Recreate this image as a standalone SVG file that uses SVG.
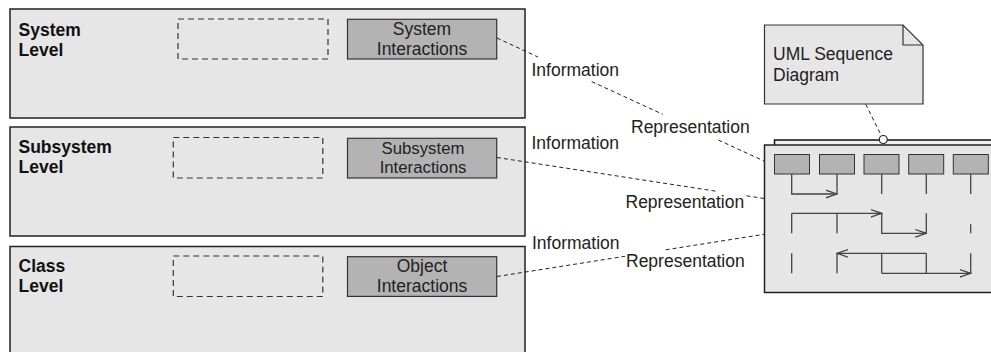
<svg xmlns="http://www.w3.org/2000/svg" width="991" height="352" viewBox="0 0 991 352">
<style>
  .level{fill:#e6e6e6;stroke:#222;stroke-width:1.5}
  .ph{fill:none;stroke:#333;stroke-width:1.2;stroke-dasharray:6 4}
  .act{fill:#b3b3b3;stroke:#333;stroke-width:1.2}
  .lbl{font-family:"Liberation Sans",Arial,sans-serif;font-size:17.5px;font-weight:bold;fill:#111}
  .txt{font-family:"Liberation Sans",Arial,sans-serif;font-size:17.5px;fill:#222}
  .sm{font-size:16.8px}
  .ctr{text-anchor:middle}
  .dash{fill:none;stroke:#222;stroke-width:1;stroke-dasharray:4 3}
  .seq{fill:none;stroke:#444;stroke-width:1.3}
  .head{fill:#b3b3b3;stroke:#333;stroke-width:1}
</style>
<defs>
  <marker id="open" markerUnits="userSpaceOnUse" markerWidth="12" markerHeight="10" viewBox="0 0 12 10" refX="11" refY="5" orient="auto">
    <path d="M0,1.2 L11,5 L0,8.8" fill="none" stroke="#444" stroke-width="1.3"/>
  </marker>
</defs>

<g id="system-level">
  <rect class="level" x="10" y="9" width="515" height="109"/>
  <text class="lbl" x="18.5" y="35.5">System</text>
  <text class="lbl" x="18.5" y="55.5">Level</text>
  <rect class="ph" x="178" y="19" width="150" height="40"/>
</g>
<g id="system-interactions">
  <rect class="act" x="347.5" y="19.3" width="149.2" height="39.7"/>
  <text class="txt ctr" x="422" y="35">System</text>
  <text class="txt ctr" x="422" y="55">Interactions</text>
</g>

<g id="subsystem-level">
  <rect class="level" x="10" y="127" width="515" height="109"/>
  <text class="lbl" x="18.5" y="153.3">Subsystem</text>
  <text class="lbl" x="18.5" y="173.3">Level</text>
  <rect class="ph" x="173.3" y="137.5" width="149.5" height="40.5"/>
</g>
<g id="subsystem-interactions">
  <rect class="act" x="347.5" y="138.3" width="149.2" height="39.7"/>
  <text class="txt sm ctr" x="423" y="153.8">Subsystem</text>
  <text class="txt sm ctr" x="423" y="172.8">Interactions</text>
</g>

<g id="class-level">
  <rect class="level" x="10" y="246.5" width="515" height="120"/>
  <text class="lbl" x="18.5" y="271.7">Class</text>
  <text class="lbl" x="18.5" y="292">Level</text>
  <rect class="ph" x="173.3" y="256" width="149.5" height="40.5"/>
</g>
<g id="object-interactions">
  <rect class="act" x="347.5" y="256.7" width="149.2" height="39.7"/>
  <text class="txt ctr" x="422" y="271.7">Object</text>
  <text class="txt ctr" x="422" y="292">Interactions</text>
</g>

<g id="note">
  <path d="M764.5,25 L903,25 L923,45 L923,104 L764.5,104 Z" fill="#e6e6e6" stroke="#333" stroke-width="1.2"/>
  <path d="M903,25 L903,45 L923,45" fill="none" stroke="#333" stroke-width="1.2"/>
  <text class="txt" x="773" y="59.5">UML Sequence</text>
  <text class="txt" x="773" y="81">Diagram</text>
</g>

<g id="sequence-diagram">
  <rect x="774.5" y="140" width="230" height="12" fill="#eeeeee" stroke="#111" stroke-width="1.5"/>
  <rect x="764.5" y="145" width="240" height="147.5" fill="#e6e6e6" stroke="#222" stroke-width="1.5"/>
  <rect class="head" x="774.5" y="154.5" width="35" height="19.5"/>
  <rect class="head" x="819.5" y="154.5" width="35" height="19.5"/>
  <rect class="head" x="864" y="154.5" width="35" height="19.5"/>
  <rect class="head" x="908.7" y="154.5" width="35" height="19.5"/>
  <rect class="head" x="953.3" y="154.5" width="35" height="19.5"/>
  <path class="seq" d="M837,174 V194 M881.7,174 V194 M926.3,174 V194 M970.7,174 V194
    M791.7,213.3 V233.3 M837,213.3 V233.3 M926.3,213.3 V233.3 M970.7,224.3 V233.3
    M791.7,253.3 V273.3 M837,253.3 V273.3 M881.7,253.3 V273.3 M926.3,253.3 V273.3 M970.7,253.3 V273.3"/>
  <path class="seq" d="M791.7,174 V194 H837" marker-end="url(#open)"/>
  <path class="seq" d="M791.7,213.3 H881.7" marker-end="url(#open)"/>
  <path class="seq" d="M881.7,213.3 V233.3 H926.3" marker-end="url(#open)"/>
  <path class="seq" d="M926.3,253.3 H837" marker-end="url(#open)"/>
  <path class="seq" d="M881.7,273.3 H970.7" marker-end="url(#open)"/>
</g>

<g id="connectors">
  <path class="dash" d="M497,38 L538,57 M591.7,81.6 L662.7,114.3 M718.3,140 L764,161"/>
  <path class="dash" d="M497,157.5 L718,191.5 M746.5,195.8 L764,198.5"/>
  <path class="dash" d="M497,276.5 L625,256.3 M665.7,249.8 L764,234.3"/>
  <path class="dash" d="M865.7,104.3 L881.3,135.5"/>
  <circle cx="883.3" cy="139.5" r="4" fill="#fff" stroke="#222" stroke-width="1.2"/>
  <text class="txt" x="531.5" y="76">Information</text>
  <text class="txt" x="631" y="133">Representation</text>
  <text class="txt" x="531.5" y="148.5">Information</text>
  <text class="txt" x="625.5" y="208">Representation</text>
  <text class="txt" x="532" y="248.5">Information</text>
  <text class="txt" x="626" y="267">Representation</text>
</g>
</svg>
